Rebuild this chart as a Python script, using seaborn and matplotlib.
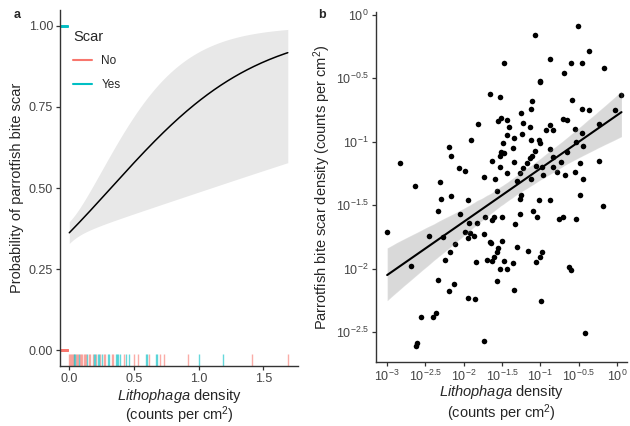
import numpy as np
import pandas as pd
import matplotlib
matplotlib.use("Agg")
import matplotlib.pyplot as plt
import seaborn as sns
from matplotlib.lines import Line2D

# ---- panel a: Lithophaga density of each sample, split by bite scar presence
density_no_scar = [0.0, 0.005, 0.01, 0.02, 0.03, 0.035, 0.05, 0.06, 0.07, 0.08,
                   0.09, 0.10, 0.11, 0.12, 0.13, 0.15, 0.16, 0.18, 0.21, 0.24,
                   0.27, 0.28, 0.33, 0.34, 0.42, 0.50, 0.53, 0.62, 0.70, 0.73,
                   0.92, 1.41, 1.69]
density_scar = [0.04, 0.045, 0.075, 0.14, 0.19, 0.20, 0.22, 0.23, 0.25, 0.30,
                0.31, 0.36, 0.37, 0.38, 0.39, 0.44, 0.46, 0.59, 0.60, 0.67,
                0.68, 1.00, 1.19]

# logistic fit (logit scale) and variance terms of the fitted value
logit_intercept = -0.567
logit_slope = 1.76
var_intercept = 0.0055
var_slope = 0.397

prob_ticks = [0.0, 0.25, 0.5, 0.75, 1.0]
density_ticks = [0.0, 0.5, 1.0, 1.5]

# ---- panel b: log10 densities per sample
litho_log10 = [-1.47, -1.655, -1.53, -1.82, -1.51, -1.55, -1.90, -1.49, -2.19, -2.17,
               -1.51, -1.52, -1.63, -2.83, -2.06, -1.98, -1.52, -1.74, -1.59, -2.31,
               -2.64, -0.51, -1.07, -0.37, -0.88, -0.60, -0.46, -0.69, -0.17, -1.01,
               -1.00, 0.06, -0.58, -1.11, -1.12, -0.45, -0.36, -0.02, -1.25, -1.43,
               -0.71, -0.65, -1.22, -1.14, -1.41, -0.87, -0.92, -0.83, -0.55, -0.23,
               -0.45, -1.44, -1.34, -1.24, -1.12, -1.02, -1.00, -0.53, -0.44, -1.36,
               -0.87, -1.07, -1.11, -1.14, -1.48, -0.65, -0.83, -1.34, -1.18, -0.73,
               -0.24, -1.05, -0.98, -0.48, -1.22, -0.83, -0.78, -1.43, -1.26, -0.68,
               -0.55, -0.44, -0.96, -1.12, -1.31, -2.30, -2.17, -1.94, -1.57, -2.33,
               -2.05, -3.00, -2.45, -2.27, -1.93, -1.83, -1.99, -1.92, -1.94, -1.86,
               -1.72, -1.60, -1.63, -1.50, -1.74, -1.66, -1.64, -1.50, -2.11, -2.18,
               -1.55, -1.57, -2.24, -1.84, -1.70, -1.63, -1.61, -1.52, -2.69, -2.34,
               -2.13, -2.19, -1.57, -1.94, -1.85, -2.56, -2.40, -2.36, -1.73, -2.62,
               -2.61, -1.25, -1.27, -1.02, -0.87, -0.48, -0.18, -1.27, -1.09, -1.04,
               -1.33, -0.76, -0.71, -0.54, -1.30, -1.16, -0.98, -1.01, -1.05, -1.47,
               -1.36, -1.44, -0.62, -0.60, -1.34, -0.99, -0.42]
bite_log10 = [-0.38, -0.62, -0.65, -0.86, -0.81, -0.84, -0.99, -1.01, -1.04, -1.11,
              -1.08, -1.11, -1.15, -1.17, -1.21, -1.23, -1.20, -1.28, -1.29, -1.32,
              -1.35, -0.087, -0.16, -0.28, -0.35, -0.38, -0.38, -0.46, -0.42, -0.52,
              -0.53, -0.63, -0.67, -0.68, -0.74, -0.74, -0.75, -0.75, -0.77, -0.83,
              -0.82, -0.83, -0.85, -0.88, -0.88, -0.87, -0.91, -0.91, -0.90, -0.86,
              -0.93, -0.95, -0.97, -0.94, -0.99, -0.99, -1.01, -1.00, -1.03, -1.05,
              -1.06, -1.07, -1.11, -1.13, -1.09, -1.08, -1.12, -1.16, -1.17, -1.16,
              -1.15, -1.19, -1.20, -1.17, -1.21, -1.20, -1.24, -1.25, -1.25, -1.26,
              -1.24, -1.29, -1.26, -1.29, -1.31, -1.45, -1.43, -1.46, -1.39, -1.55,
              -1.57, -1.71, -1.74, -1.75, -1.64, -1.64, -1.71, -1.72, -1.76, -1.74,
              -1.59, -1.59, -1.62, -1.59, -1.73, -1.79, -1.80, -1.78, -1.81, -1.87,
              -1.84, -1.87, -1.93, -1.95, -1.93, -1.94, -1.91, -2.00, -1.98, -2.09,
              -2.12, -2.18, -2.10, -2.23, -2.24, -2.38, -2.38, -2.35, -2.57, -2.61,
              -2.59, -1.42, -1.45, -1.46, -1.46, -1.42, -1.51, -1.57, -1.55, -1.59,
              -1.65, -1.61, -1.59, -1.61, -1.83, -1.86, -1.87, -1.91, -1.95, -1.94,
              -1.96, -2.00, -1.99, -2.01, -2.17, -2.26, -2.51]

log_x_ticks = [-3, -2.5, -2, -1.5, -1, -0.5, 0]
log_y_ticks = [-2.5, -2, -1.5, -1, -0.5, 0]

RED = "#F8766D"
CYAN = "#00BFC4"
INK = "#333333"

sns.set_theme(style="ticks")
plt.rcParams["font.family"] = ["Liberation Sans", "DejaVu Sans"]
plt.rcParams["mathtext.fontset"] = "custom"
plt.rcParams["mathtext.rm"] = "Liberation Sans"
plt.rcParams["mathtext.it"] = "Liberation Sans:italic"
plt.rcParams["mathtext.bf"] = "Liberation Sans:bold"

fig = plt.figure(figsize=(6.3, 4.26), dpi=100)
ax_a = fig.add_axes([0.0952, 0.1408, 0.378, 0.8357])
ax_b = fig.add_axes([0.5963, 0.1495, 0.3987, 0.823])


def two_line_xlabel(ax, y1, y2):
    # x label written as two separate lines, like the reference
    ax.text(0.5, y1, r"$\mathit{Lithophaga}$ density", transform=ax.transAxes,
            ha="center", va="center", fontsize=10.5)
    ax.text(0.5, y2, r"(counts per cm$^2$)", transform=ax.transAxes,
            ha="center", va="center", fontsize=10.5)


# ---------------- panel a
rug = pd.DataFrame({
    "density": density_no_scar + density_scar,
    "Scar": ["No"] * len(density_no_scar) + ["Yes"] * len(density_scar),
})
rug["scar_num"] = (rug["Scar"] == "Yes").astype(int)
pal = {"No": RED, "Yes": CYAN}

xs = np.linspace(0, rug["density"].max(), 200)
eta = logit_intercept + logit_slope * xs
se = np.sqrt(var_intercept + var_slope * xs ** 2)
inv = lambda z: 1 / (1 + np.exp(-z))
ax_a.fill_between(xs, inv(eta - 1.96 * se), inv(eta + 1.96 * se),
                  color="#e8e8e8", lw=0)
sns.lineplot(x=xs, y=inv(eta), color="black", lw=1.1, ax=ax_a)

sns.rugplot(data=rug, x="density", hue="Scar", palette=pal, height=0.033,
            alpha=0.6, lw=1.1, ax=ax_a, legend=False)
sns.rugplot(data=rug, y="scar_num", hue="Scar", palette=pal, height=0.033,
            alpha=0.6, lw=1.1, ax=ax_a, legend=False)

ax_a.set_xlim(-0.072, 1.77)
ax_a.set_ylim(-0.049, 1.049)
ax_a.set_xticks(density_ticks)
ax_a.set_xticklabels([f"{t:.1f}" for t in density_ticks])
ax_a.set_yticks(prob_ticks)
ax_a.set_yticklabels([f"{t:.2f}" for t in prob_ticks])
ax_a.set_ylabel("Probability of parrotfish bite scar", fontsize=10.5, labelpad=3)
ax_a.set_xlabel("")
two_line_xlabel(ax_a, -0.083, -0.137)

handles = [Line2D([], [], color=RED, lw=1.5), Line2D([], [], color=CYAN, lw=1.5)]
ax_a.legend(handles, ["No", "Yes"], title="Scar", frameon=False,
            loc="upper left", bbox_to_anchor=(0.01, 0.975), fontsize=8.5,
            title_fontsize=10.5, handlelength=1.6, alignment="left",
            labelspacing=1.0)

# ---------------- panel b
sns.regplot(x=litho_log10, y=bite_log10, ax=ax_b, color="black", ci=95, seed=3,
            scatter_kws=dict(s=16, linewidths=0, alpha=1),
            line_kws=dict(lw=1.5))
ax_b.set_xlim(-3.15, 0.13)
ax_b.set_ylim(-2.74, 0.026)
ax_b.set_xticks(log_x_ticks)
ax_b.set_xticklabels([f"$10^{{{t:g}}}$" for t in log_x_ticks])
ax_b.set_yticks(log_y_ticks)
ax_b.set_yticklabels([f"$10^{{{t:g}}}$" for t in log_y_ticks])
ax_b.set_ylabel(r"Parrotfish bite scar density (counts per cm$^2$)", fontsize=10.5,
                labelpad=2)
ax_b.set_xlabel("")
two_line_xlabel(ax_b, -0.085, -0.145)

for ax in (ax_a, ax_b):
    sns.despine(ax=ax)
    for s in ("left", "bottom"):
        ax.spines[s].set_color(INK)
        ax.spines[s].set_linewidth(1.0)
    ax.tick_params(direction="out", length=3, width=0.9, color=INK,
                   labelsize=9, labelcolor="#444444", pad=2)

fig.text(0.022, 0.965, "a", weight="bold", fontsize=9, va="center")
fig.text(0.505, 0.965, "b", weight="bold", fontsize=9, va="center")

fig.savefig("out.png", dpi=100)
